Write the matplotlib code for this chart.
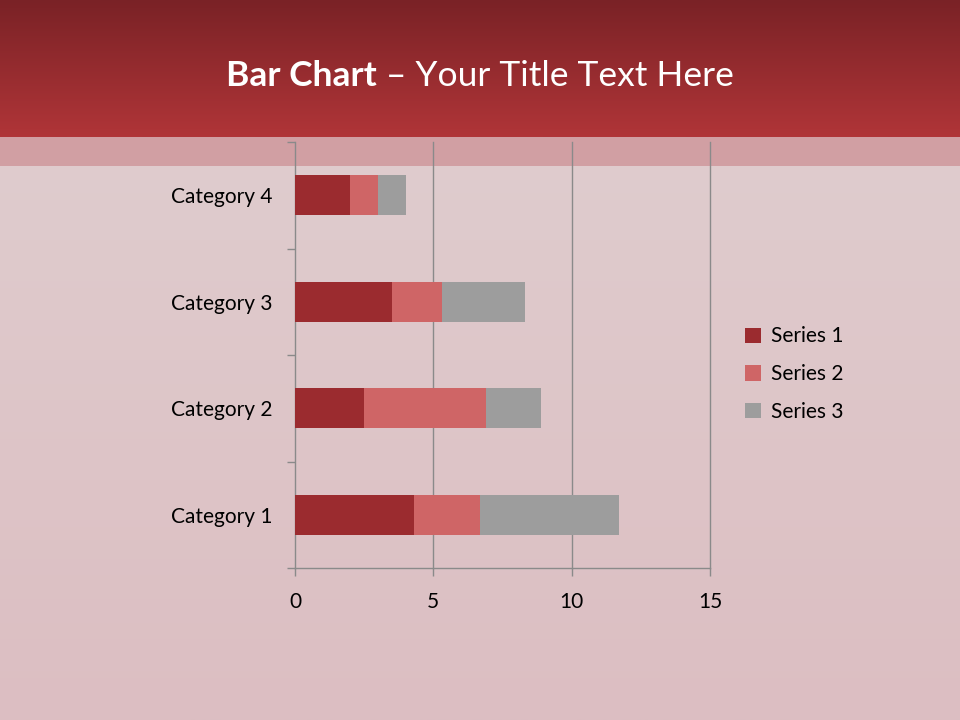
import numpy as np
import matplotlib.pyplot as plt
from matplotlib.patches import Rectangle

categories = ["Category 1", "Category 2", "Category 3", "Category 4"]
series_names = ["Series 1", "Series 2", "Series 3"]
series1 = [4.3, 2.5, 3.5, 2.0]
series2 = [2.4, 4.4, 1.8, 1.0]
series3 = [5.0, 2.0, 3.0, 1.0]
xticks = [0, 5, 10, 15]

colors = ["#9b2b2f", "#cf6566", "#9d9d9d"]
grid_col = "#8a8a8a"
font = ["Lato", "DejaVu Sans"]

fig = plt.figure(figsize=(9.6, 7.2), dpi=100)
fig.patch.set_facecolor("#dcc2c5")

# background: soft vertical shading, lighter towards the top
bg = fig.add_axes([0, 0, 1, 1], zorder=-10)
grad = np.linspace(0, 1, 256).reshape(-1, 1)
top = np.array([224, 208, 209]) / 255
bot = np.array([220, 190, 194]) / 255
img = top + (bot - top) * grad[:, :, None]
bg.imshow(img, aspect="auto", extent=[0, 1, 0, 1], origin="upper")

# title band gradient
band = np.linspace(0, 1, 128).reshape(-1, 1)
c0 = np.array([122, 34, 38]) / 255
c1 = np.array([176, 53, 56]) / 255
band_img = c0 + (c1 - c0) * band[:, :, None]
bg.imshow(band_img, aspect="auto", extent=[0, 1, 1 - 137 / 720, 1], origin="upper")
bg.add_patch(Rectangle((0, 1 - 166 / 720), 1, 29 / 720, color="#c06a70", alpha=0.45, lw=0))
bg.set_xlim(0, 1)
bg.set_ylim(0, 1)
bg.axis("off")

# title in two parts, centred together
ty = 1 - 76 / 720
t1 = fig.text(0.5, ty, "Bar Chart", ha="left", va="center", color="white",
              fontsize=25.5, fontweight="bold", family=font)
t2 = fig.text(0.5, ty, " \u2013 Your Title Text Here", ha="left", va="center",
              color="white", fontsize=25.5, family=font)
r = fig.canvas.get_renderer()
w1 = t1.get_window_extent(r).width / 960
w2 = t2.get_window_extent(r).width / 960
x0 = 0.5 - (w1 + w2) / 2
t1.set_x(x0)
t2.set_x(x0 + w1)

ax = fig.add_axes([295 / 960, 1 - 568 / 720, 415 / 960, 426 / 720])
ax.set_facecolor("none")
y = np.arange(len(categories))
h = 0.38
left = np.zeros(len(categories))
for vals, name, c in zip([series1, series2, series3], series_names, colors):
    ax.barh(y, vals, height=h, left=left, color=c, label=name, zorder=3)
    left = left + np.array(vals)

ax.set_xlim(0, 15)
ax.set_ylim(-0.5, len(categories) - 0.5)
ax.set_xticks(xticks)
ax.set_xticklabels([str(t) for t in xticks], fontsize=15, family=font)
ax.set_yticks(y)
ax.set_yticklabels(categories, fontsize=15, family=font)
ax.set_yticks(np.arange(-0.5, len(categories), 1), minor=True)
ax.tick_params(axis="y", which="major", length=0, pad=16)
ax.tick_params(axis="y", which="minor", length=6, color=grid_col, width=1)
ax.tick_params(axis="x", length=6, color=grid_col, width=1, pad=11)
for t in xticks[1:]:
    ax.axvline(t, color=grid_col, lw=1, zorder=0, clip_on=False)
for s in ["top", "right"]:
    ax.spines[s].set_visible(False)
for s in ["left", "bottom"]:
    ax.spines[s].set_color(grid_col)
    ax.spines[s].set_linewidth(1)

leg = ax.legend(loc="center left", bbox_to_anchor=(1.04, 0.455), frameon=False,
                prop={"family": font, "size": 15}, handlelength=0.75, handleheight=0.75,
                labelspacing=0.85, handletextpad=0.5)

fig.savefig("out.png", dpi=100, facecolor=fig.get_facecolor())
